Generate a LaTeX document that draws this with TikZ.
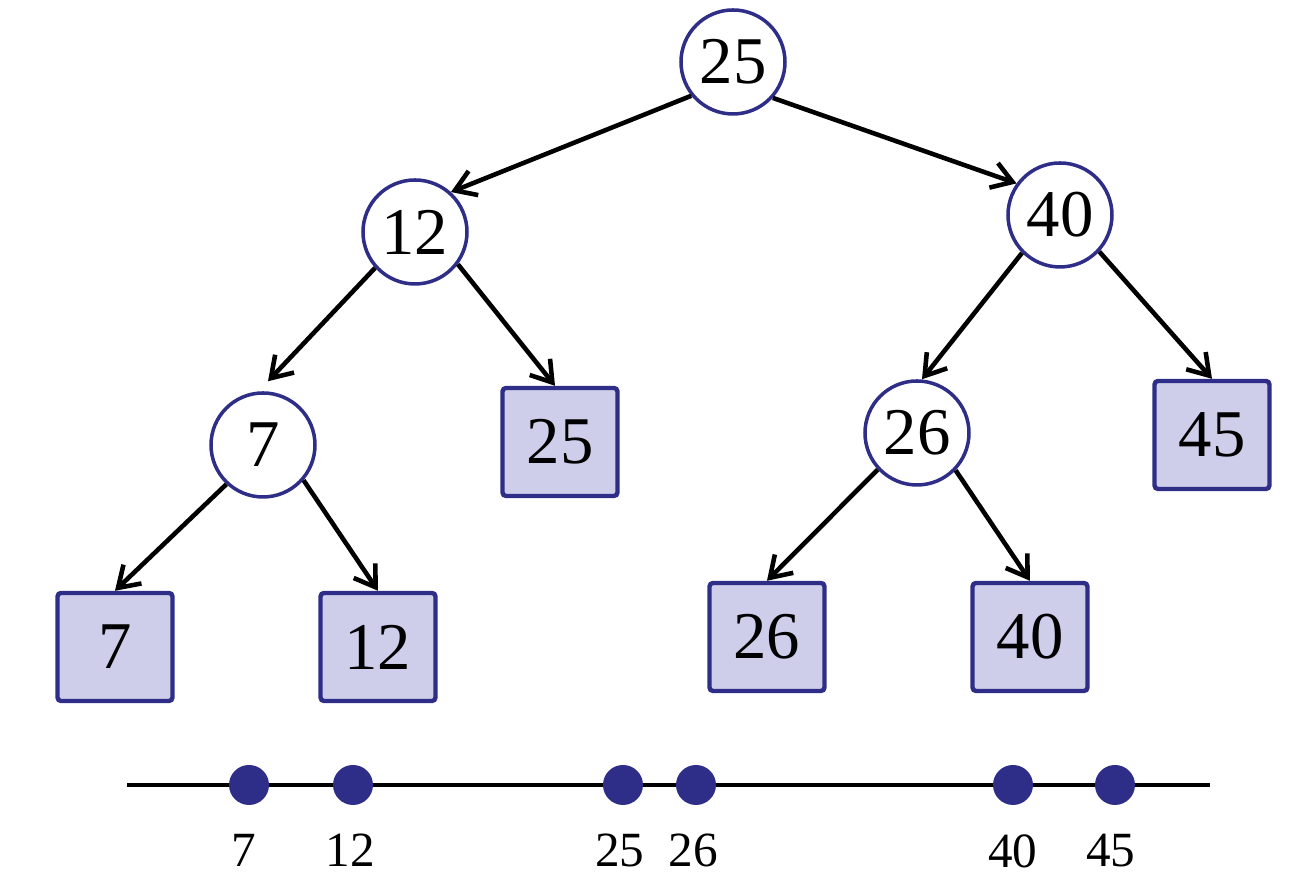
\documentclass[tikz,border=0pt]{standalone}
\usepackage{fontspec}
\setmainfont{Liberation Serif}
\usepackage{xcolor}
\usetikzlibrary{arrows.meta, positioning}

\definecolor{navy}{HTML}{2E2E88}
\definecolor{lavender}{HTML}{CECEEB}

\begin{document}
\begin{tikzpicture}[
  inner/.style={
    circle, draw=navy, line width=1.0pt, fill=white, minimum size=1.04cm,
    inner sep=0pt, font=\fontsize{19}{20}\selectfont
  },
  leaf/.style={
    draw=navy, rounded corners=1pt, line width=1.25pt, fill=lavender,
    minimum width=1.15cm, minimum height=1.08cm, inner sep=0pt,
    font=\fontsize{19}{20}\selectfont
  },
  dot/.style={circle, fill=navy, minimum size=0.4cm, inner sep=0pt},
  tick/.style={inner sep=0pt, font=\fontsize{14}{16}\selectfont},
  edge/.style={-{Straight Barb[length=2mm, width=2.6mm]}, line width=1.3pt},
  axis/.style={line width=1.3pt}
]
\useasboundingbox (0,0) rectangle (13.12,8.84);

% Inner nodes of the search tree
\node[inner] (r25) at (7.33, 8.22) {25};
\node[inner] (r12) at (4.15, 6.52) {12};
\node[inner] (r40) at (10.60, 6.69) {40};
\node[inner] (r7)  at (2.63, 4.39) {7};
\node[inner] (r26) at (9.17, 4.51) {26};

% Leaves
\node[leaf] (k25) at (5.60, 4.42) {25};
\node[leaf] (k45) at (12.12, 4.49) {45};
\node[leaf] (k7)  at (1.15, 2.37) {7};
\node[leaf] (k12) at (3.78, 2.37) {12};
\node[leaf] (k26) at (7.67, 2.47) {26};
\node[leaf] (k40) at (10.30, 2.47) {40};

% Tree edges
\draw[edge] (r25.219) -- (r12.48);
\draw[edge] (r25.318) -- (r40.144);
\draw[edge] (r12.222) -- ([xshift=0.05cm, yshift=0.1cm]r7.north);
\draw[edge] (r12.323) -- ([xshift=-0.05cm]k25.north);
\draw[edge] (r40.225) -- ([xshift=0.05cm]r26.north);
\draw[edge] (r40.317) -- (k45.north);
\draw[edge] (r7.227) -- (k7.north);
\draw[edge] (r7.319) -- (k12.north);
\draw[edge] (r26.223) -- (k26.north);
\draw[edge] (r26.316) -- (k40.north);

% Keys on the line
\coordinate (ls) at (1.27, 0.99);
\coordinate (le) at (12.10, 0.99);
\draw[axis] (ls) -- (le);

\node[dot] (d7)  at (2.49, 0.99) {};
\node[dot] (d12) at (3.53, 0.99) {};
\node[dot] (d25) at (6.23, 0.99) {};
\node[dot] (d26) at (6.96, 0.99) {};
\node[dot] (d40) at (10.13, 0.99) {};
\node[dot] (d45) at (11.15, 0.99) {};

\node[tick, below=0.28cm of d7,  xshift=-0.05cm] (t7)  {7};
\node[tick, below=0.28cm of d12, xshift=-0.03cm] (t12) {12};
\node[tick, below=0.28cm of d25, xshift=-0.03cm] (t25) {25};
\node[tick, below=0.28cm of d26, xshift=-0.03cm] (t26) {26};
\node[tick, below=0.28cm of d40] (t40) {40};
\node[tick, below=0.28cm of d45, xshift=-0.04cm] (t45) {45};

\end{tikzpicture}
\end{document}
